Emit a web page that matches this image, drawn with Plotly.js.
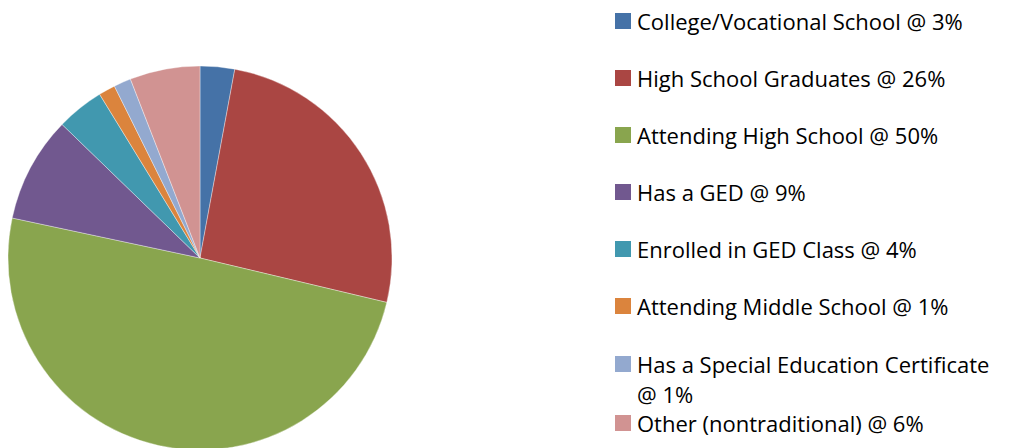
<!DOCTYPE html>
<html>
<head>
<meta charset="utf-8">
<script src="https://cdn.plot.ly/plotly-3.0.1.min.js"></script>
<style>
html,body{margin:0;padding:0;background:#fff;overflow:hidden;width:1011px;height:448px;}
#chart{width:1011px;height:452px;}
</style>
</head>
<body>
<div id="chart"></div>
<script>
// Data
var categories = [
  "College/Vocational School",
  "High School Graduates",
  "Attending High School",
  "Has a GED",
  "Enrolled in GED Class",
  "Attending Middle School",
  "Has a Special Education Certificate",
  "Other (nontraditional)"
];
var values = [2.9, 25.8, 49.6, 8.9, 4.0, 1.4, 1.45, 5.9];
var pctLabels = ["3%", "26%", "50%", "9%", "4%", "1%", "1%", "6%"];
var colors = ["#4572A7", "#AA4643", "#89A54E", "#71588F", "#4198AF", "#DB843D", "#93A9CF", "#D19392"];
// legend lines where the label wraps (index -> first line text)
var wrapAfter = {6: "Has a Special Education Certificate"};

var W = 1011, H = 452;
function px(x){ return x / W; }
function py(y){ return 1 - y / H; }

var trace = {
  type: "pie",
  labels: categories,
  values: values,
  sort: false,
  direction: "clockwise",
  rotation: 0,
  textinfo: "none",
  hoverinfo: "label+percent",
  marker: {colors: colors, line: {color: "rgba(255,255,255,0.6)", width: 0.6}},
  domain: {x: [px(8), px(392)], y: [py(450), py(66)]},
  showlegend: false
};

var rowY = [21, 78, 135, 192, 249, 306, 364, 423];
var annotations = [];
var shapes = [];
var font = {family: "Open Sans, Noto Sans, sans-serif", size: 22, color: "#000"};
for (var i = 0; i < categories.length; i++) {
  var full = categories[i] + " @ " + pctLabels[i];
  var lines = [full];
  if (wrapAfter[i]) {
    lines = [wrapAfter[i], full.slice(wrapAfter[i].length + 1)];
  }
  for (var k = 0; k < lines.length; k++) {
    annotations.push({
      xref: "paper", yref: "paper",
      x: px(635), y: py(rowY[i] + k * 30),
      xanchor: "left", yanchor: "middle",
      text: lines[k], showarrow: false, font: font
    });
  }
  shapes.push({
    type: "rect", xref: "paper", yref: "paper",
    x0: px(615), x1: px(631), y0: py(rowY[i] - 8), y1: py(rowY[i] + 8),
    fillcolor: colors[i], line: {width: 0}
  });
}

var layout = {
  width: W, height: H,
  margin: {l: 0, r: 0, t: 0, b: 0},
  paper_bgcolor: "#fff",
  plot_bgcolor: "#fff",
  showlegend: false,
  annotations: annotations,
  shapes: shapes
};

Plotly.newPlot("chart", [trace], layout, {displayModeBar: false, staticPlot: true});
</script>
</body>
</html>
